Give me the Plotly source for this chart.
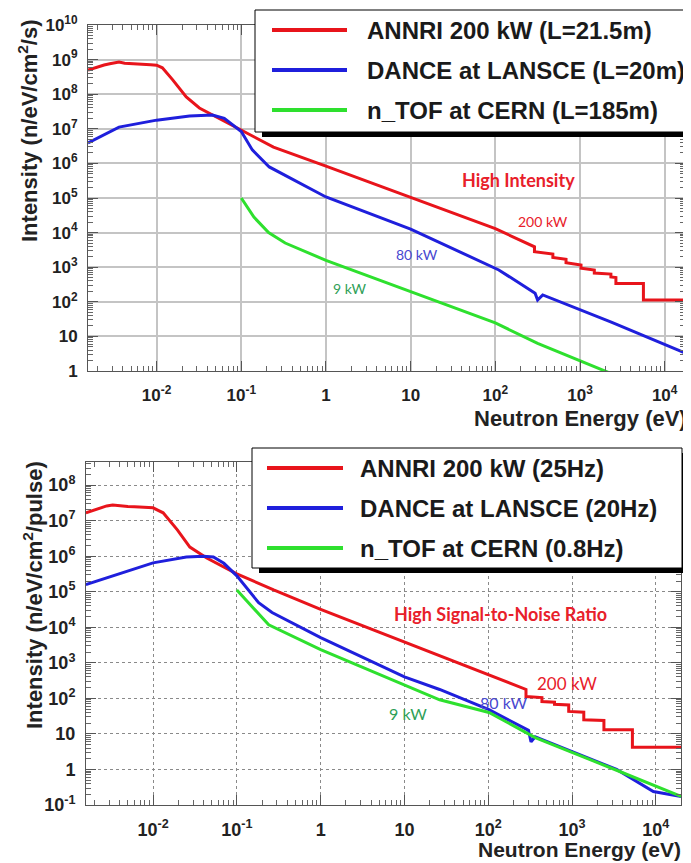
import plotly.graph_objects as go

# ---------------- DATA ----------------
# Top panel: Intensity (n/eV/cm^2/s) vs neutron energy (eV)
annri_s_E = [1.55e-3, 1.8e-3, 2.0e-3, 2.4e-3, 2.8e-3, 3.2e-3, 3.6e-3, 4.2e-3, 5.0e-3, 6.0e-3, 7.1e-3, 8.5e-3,
             1.0e-2, 1.17e-2, 1.55e-2, 2.24e-2, 3.2e-2, 5.1e-2, 0.1, 0.24, 1.0, 10.0, 100.0, 290.0,
             290.0, 478.0, 478.0, 684.0, 684.0, 1028.0, 1028.0, 1476.0, 1476.0, 2317.0, 2317.0,
             2655.0, 2655.0, 5610.0, 5610.0, 18200.0]
annri_s_I = [5.0e8, 5.6e8, 6.3e8, 7.0e8, 7.6e8, 8.2e8, 8.5e8, 7.9e8, 7.6e8, 7.4e8, 7.2e8, 7.1e8,
             6.9e8, 5.8e8, 2.6e8, 8.3e7, 4.0e7, 2.2e7, 8.9e6, 2.95e6, 8.3e5, 1.05e5, 1.3e4, 3890.0,
             2818.0, 2399.0, 1905.0, 1698.0, 1349.0, 1148.0, 933.0, 832.0, 676.0, 631.0, 525.0,
             501.0, 339.0, 339.0, 112.0, 112.0]

dance_s_E = [1.55e-3, 3.6e-3, 1.0e-2, 2.45e-2, 4.57e-2, 6.3e-2, 0.1, 0.135, 0.214, 0.4, 1.0, 10.0,
             110.0, 295.0, 316.0, 363.0, 2340.0, 17400.0]
dance_s_I = [3.9e6, 1.12e7, 1.78e7, 2.34e7, 2.5e7, 2.0e7, 8.3e6, 2.45e6, 7.9e5, 3.5e5, 1.07e5, 1.26e4,
             832.0, 178.0, 112.0, 158.0, 26.0, 3.3]

ntof_s_E = [0.1, 0.141, 0.21, 0.33, 1.0, 10.0, 100.0, 316.0, 2000.0, 2400.0]
ntof_s_I = [1.0e5, 2.8e4, 1.0e4, 5.0e3, 1.58e3, 200.0, 24.5, 6.3, 1.0, 0.82]

# Bottom panel: Intensity (n/eV/cm^2/pulse) vs neutron energy (eV)
annri_p_E = [1.58e-3, 1.9e-3, 2.24e-3, 2.8e-3, 3.3e-3, 4.0e-3, 5.0e-3, 6.0e-3, 7.1e-3, 8.5e-3, 1.0e-2,
             1.32e-2, 1.95e-2, 2.75e-2, 4.37e-2, 0.1, 0.275, 1.0, 10.0, 102.0, 282.0,
             282.0, 437.0, 437.0, 617.0, 617.0, 912.0, 912.0, 1380.0, 1380.0, 2400.0, 2400.0,
             5250.0, 5250.0, 20000.0]
annri_p_I = [1.66e7, 1.9e7, 2.24e7, 2.6e7, 2.75e7, 2.6e7, 2.5e7, 2.45e7, 2.4e7, 2.35e7, 2.3e7,
             1.66e7, 5.5e6, 1.8e6, 8.9e5, 3.2e5, 1.12e5, 3.2e4, 3.9e3, 468.0, 178.0,
             112.0, 105.0, 81.0, 78.0, 68.0, 65.0, 43.0, 41.0, 25.0, 24.0, 13.2,
             13.2, 4.2, 4.2]

dance_p_E = [1.58e-3, 4.0e-3, 1.0e-2, 2.5e-2, 4.0e-2, 5.25e-2, 7.0e-2, 0.1, 0.182, 0.263, 1.0, 10.0,
             26.3, 102.0, 302.0, 324.0, 363.0, 3400.0, 9330.0, 20000.0]
dance_p_I = [1.58e5, 3.2e5, 6.5e5, 9.5e5, 1.0e6, 9.5e5, 6.3e5, 2.8e5, 4.9e4, 2.6e4, 5.1e3, 400.0,
             178.0, 48.0, 12.6, 6.0, 8.3, 1.0, 0.24, 0.174]

ntof_p_E = [0.1, 0.151, 0.24, 1.0, 10.0, 26.3, 102.0, 316.0, 363.0, 3400.0, 20000.0]
ntof_p_I = [1.12e5, 3.8e4, 1.17e4, 2.34e3, 230.0, 91.0, 40.0, 9.5, 7.9, 0.95, 0.174]

x_tickvals = [1e-2, 1e-1, 1, 10, 1e2, 1e3, 1e4]
x_ticktext = ["10<sup>-2</sup>", "10<sup>-1</sup>", "1", "10", "10<sup>2</sup>", "10<sup>3</sup>", "10<sup>4</sup>"]
y1_tickvals = [1, 10, 1e2, 1e3, 1e4, 1e5, 1e6, 1e7, 1e8, 1e9, 1e10]
y1_ticktext = ["1", "10", "10<sup>2</sup>", "10<sup>3</sup>", "10<sup>4</sup>", "10<sup>5</sup>",
               "10<sup>6</sup>", "10<sup>7</sup>", "10<sup>8</sup>", "10<sup>9</sup>", "10<sup>10</sup>"]
y2_tickvals = [1e-1, 1, 10, 1e2, 1e3, 1e4, 1e5, 1e6, 1e7, 1e8]
y2_ticktext = ["10<sup>-1</sup>", "1", "10", "10<sup>2</sup>", "10<sup>3</sup>", "10<sup>4</sup>",
               "10<sup>5</sup>", "10<sup>6</sup>", "10<sup>7</sup>", "10<sup>8</sup>"]

legend_top = ["ANNRI 200 kW (L=21.5m)", "DANCE at LANSCE (L=20m)", "n_TOF at CERN (L=185m)"]
legend_bot = ["ANNRI 200 kW (25Hz)", "DANCE at LANSCE (20Hz)", "n_TOF at CERN (0.8Hz)"]

# ---------------- STYLE ----------------
# The page body has an 8px default margin: draw in a figure 8px smaller and
# express positions in window pixels shifted by that offset.
OFF = 8
W, H = 691 - OFF, 863 - OFF
RED, BLUE, GREEN = "#e8141b", "#1f1fdc", "#2ee02e"
colors = [RED, BLUE, GREEN]


def px(x):
    return (x - OFF) / W


def py(y):
    return 1 - (y - OFF) / H


fig = go.Figure()
series_top = [(annri_s_E, annri_s_I), (dance_s_E, dance_s_I), (ntof_s_E, ntof_s_I)]
series_bot = [(annri_p_E, annri_p_I), (dance_p_E, dance_p_I), (ntof_p_E, ntof_p_I)]
for (e, i), c, n in zip(series_top, colors, legend_top):
    fig.add_trace(go.Scatter(x=e, y=i, mode="lines", line=dict(color=c, width=3), name=n,
                             xaxis="x", yaxis="y", showlegend=False))
for (e, i), c, n in zip(series_bot, colors, legend_bot):
    fig.add_trace(go.Scatter(x=e, y=i, mode="lines", line=dict(color=c, width=3), name=n,
                             xaxis="x2", yaxis="y2", showlegend=False))


def minor_vals(d0, d1):
    return [m * 10 ** d for d in range(d0, d1) for m in range(2, 10)]


tickfont = dict(family="Liberation Sans, Arial", size=17, color="#222222", weight="bold")

common = dict(type="log", showline=True, linecolor="#555555", linewidth=1, mirror="allticks",
              ticks="inside", ticklen=10, tickcolor="#555555", tickfont=tickfont, zeroline=False,
              automargin=False)

fig.update_layout(
    width=W, height=H, margin=dict(l=0, r=0, t=0, b=0, autoexpand=False),
    paper_bgcolor="white", plot_bgcolor="white",
    xaxis=dict(common, range=[-2.81, 4.24], domain=[px(88), px(685)], anchor="y",
               tickvals=x_tickvals, ticktext=x_ticktext, ticklabelstandoff=9,
               showgrid=True, gridcolor="#c4c4c4", gridwidth=1.5,
               minor=dict(tickmode="array", tickvals=minor_vals(-3, 5), ticks="inside", ticklen=5,
                          tickcolor="#666666", showgrid=False)),
    yaxis=dict(common, range=[0, 10], domain=[py(371), py(25)], anchor="x",
               tickvals=y1_tickvals, ticktext=y1_ticktext, ticklabelstandoff=6,
               showgrid=True, gridcolor="#c4c4c4", gridwidth=1.5,
               minor=dict(tickmode="array", tickvals=minor_vals(0, 10), ticks="inside", ticklen=5,
                          tickcolor="#666666", showgrid=False)),
    xaxis2=dict(common, range=[-2.8, 4.3], domain=[px(86), px(681)], anchor="y2",
                tickvals=x_tickvals, ticktext=x_ticktext, ticklabelstandoff=8,
                showgrid=True, gridcolor="#8a8a8a", gridwidth=1, griddash="dot",
                tickfont=dict(tickfont, size=18),
                minor=dict(tickmode="array", tickvals=minor_vals(-3, 5), ticks="inside", ticklen=5,
                           tickcolor="#666666", showgrid=False)),
    yaxis2=dict(common, range=[-1, 8.65], domain=[py(805), py(462)], anchor="x2",
                tickvals=y2_tickvals, ticktext=y2_ticktext, ticklabelstandoff=6,
                showgrid=True, gridcolor="#8a8a8a", gridwidth=1, griddash="dot",
                tickfont=dict(tickfont, size=18),
                minor=dict(tickmode="array", tickvals=minor_vals(-1, 9), ticks="inside", ticklen=5,
                           tickcolor="#666666", showgrid=False)),
)

shapes = []
annotations = []


def legend(box, shadow, rows, line_x, text_x, labels):
    shapes.append(dict(type="rect", xref="paper", yref="paper", x0=px(shadow[0]), x1=px(shadow[2]),
                       y0=py(shadow[3]), y1=py(shadow[1]), fillcolor="black", line=dict(width=0)))
    shapes.append(dict(type="rect", xref="paper", yref="paper", x0=px(box[0]), x1=px(box[2]),
                       y0=py(box[3]), y1=py(box[1]), fillcolor="white",
                       line=dict(color="black", width=1)))
    for r, c, lab in zip(rows, colors, labels):
        shapes.append(dict(type="line", xref="paper", yref="paper", x0=px(line_x[0]), x1=px(line_x[1]),
                           y0=py(r), y1=py(r), line=dict(color=c, width=4)))
        annotations.append(dict(xref="paper", yref="paper", x=px(text_x), y=py(r), xanchor="left",
                                yanchor="middle", showarrow=False, text="<b>%s</b>" % lab,
                                font=dict(family="Liberation Sans, Arial", size=24, color="#1a1a1a")))


legend((255, 10, 684, 132), (262, 15, 689, 137), [30, 70, 110], (272, 347), 365, legend_top)
legend((252, 448, 682, 568), (259, 453, 687, 573), [468, 508, 548], (267, 343), 358, legend_bot)


def label(x, y, text, color, size, bold=False, family="Lato, Open Sans"):
    annotations.append(dict(xref="paper", yref="paper", x=px(x), y=py(y), xanchor="center",
                            yanchor="middle", showarrow=False,
                            text=("<b>%s</b>" % text) if bold else text,
                            font=dict(family=family, size=size, color=color)))


label(518, 180, "High Intensity", "#e8202a", 18, bold=True)
label(543, 222, "200 kW", "#e8202a", 14)
label(417, 255, "80 kW", "#4848d0", 14)
label(350, 288, "9 kW", "#2f9f58", 14)

label(500, 614, "High Signal-to-Noise Ratio", "#e8202a", 18, bold=True)
label(567, 683, "200 kW", "#e8202a", 17)
label(503, 702, "80 kW", "#4848d0", 16)
label(408, 713, "9 kW", "#2f9f58", 16)

# axis titles
for (x, y, t) in [(28, 131, "Intensity (n/eV/cm<sup>2</sup>/s)"),
                  (33, 595, "Intensity (n/eV/cm<sup>2</sup>/pulse)")]:
    annotations.append(dict(xref="paper", yref="paper", x=px(x), y=py(y), xanchor="center",
                            yanchor="middle", textangle=-90, showarrow=False, text="<b>%s</b>" % t,
                            font=dict(family="Liberation Sans, Arial", size=22, color="#222222")))
for (x, y, s) in [(689, 418, 22), (683, 849, 21)]:
    annotations.append(dict(xref="paper", yref="paper", x=px(x), y=py(y), xanchor="right",
                            yanchor="middle", showarrow=False, text="<b>Neutron Energy (eV)</b>",
                            font=dict(family="Liberation Sans, Arial", size=s, color="#222222")))

fig.update_layout(shapes=shapes, annotations=annotations)
fig.write_html("out.html")
